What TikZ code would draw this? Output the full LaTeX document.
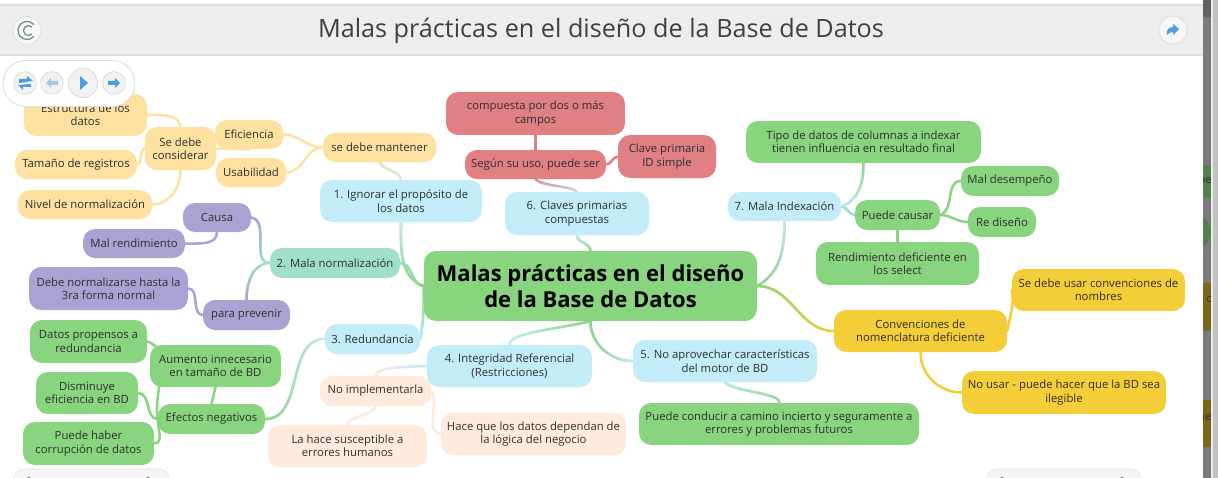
\documentclass[tikz,border=0pt]{standalone}
\usepackage{fontspec}
\setmainfont{Open Sans}
\usetikzlibrary{arrows.meta,fadings,backgrounds}
\definecolor{MapYel}{HTML}{FDE1A0}
\definecolor{MapPur}{HTML}{A9A2D2}
\definecolor{MapTeal}{HTML}{9FDFCB}
\definecolor{MapBlue}{HTML}{C2ECF7}
\definecolor{MapGreen}{HTML}{89D47E}
\definecolor{MapPeach}{HTML}{FFEADD}
\definecolor{MapRed}{HTML}{E08082}
\definecolor{MapGold}{HTML}{F4CE38}
\definecolor{MapText}{HTML}{303030}
\definecolor{BarGrey}{HTML}{EDEDED}
\definecolor{BarLine}{HTML}{DEDEDE}
\definecolor{BtnBlue}{HTML}{4A9FE0}
\tikzset{
  lnk/.style={draw=#1,line width=1.9pt,line cap=round},
  fadelnk/.style 2 args={line width=1.9pt,line cap=round,draw=#1,postaction={draw=#2,path fading=\fadedir}},
  btn/.style={draw=BarLine,fill=#1,circle,inner sep=0pt,line width=0.6pt},
}
\begin{document}
\begin{tikzpicture}[x=0.75pt,y=-0.75pt,every node/.style={draw=none,font=\fontsize{8.5}{10.1}\selectfont,text=MapText,align=center,inner sep=0pt,rounded corners=9pt}]
  \useasboundingbox (0,0) rectangle (1218,478);
  % boxes
  \foreach \nm/\xa/\ya/\xb/\yb/\col/\lab in {
    estr/24/94/147/136/MapYel/{Estructura de los\\datos},
    cons/145/127/216/170/MapYel/{Se debe\\considerar},
    efic/215/120/283/149/MapYel/Eficiencia,
    usab/216/158/286/187/MapYel/Usabilidad,
    mant/323/133/436/162/MapYel/se debe mantener,
    tama/15/150/137/179/MapYel/Tamaño de registros,
    nivel/18/190/152/219/MapYel/Nivel de normalización,
    ign/320/180/482/222/MapBlue/{1. Ignorar el propósito de\\los datos},
    caus/183/203/251/232/MapPur/Causa,
    mrend/83/229/185/258/MapPur/Mal rendimiento,
    norm/270/248/400/278/MapTeal/2. Mala normalización,
    debe/29/267/188/310/MapPur/{Debe normalizarse hasta la\\3ra forma normal},
    prev/203/300/290/330/MapPur/para prevenir,
    dat/30/320/147/363/MapGreen/{Datos propensos a\\redundancia},
    aume/150/345/281/387/MapGreen/{Aumento innecesario\\en tamaño de BD},
    dism/36/372/138/414/MapGreen/{Disminuye\\eficiencia en BD},
    efec/158/404/265/434/MapGreen/Efectos negativos,
    hab/23/422/154/465/MapGreen/{Puede haber\\corrupción de datos},
    redu/325/324/420/354/MapBlue/3. Redundancia,
    integ/427/345/592/387/MapBlue/{4. Integridad Referencial\\(Restricciones)},
    noim/320/376/431/406/MapPeach/No implementarla,
    lah/268/425/427/467/MapPeach/{La hace susceptible a\\errores humanos},
    hace/441/413/626/455/MapPeach/{Hace que los datos dependan de\\la lógica del negocio},
    apr/633/340/817/382/MapBlue/{5. No aprovechar características\\del motor de BD},
    cond/639/403/919/445/MapGreen/{Puede conducir a camino incierto y seguramente a\\errores y problemas futuros},
    clav/505/192/649/235/MapBlue/{6. Claves primarias\\compuestas},
    seg/465/150/606/179/MapRed/{Según su uso, puede ser},
    comp/446/92/625/135/MapRed/{compuesta por dos o más\\campos},
    cprim/618/135/716/178/MapRed/{Clave primaria\\ID simple},
    mind/728/192/841/221/MapBlue/7. Mala Indexación,
    tipo/746/121/981/163/MapGreen/{Tipo de datos de columnas a indexar\\tienen influencia en resultado final},
    pcau/855/200/940/230/MapGreen/Puede causar,
    mdes/961/166/1059/196/MapGreen/Mal desempeño,
    redi/968/207/1036/237/MapGreen/Re diseño,
    rend/816/242/979/285/MapGreen/{Rendimiento deficiente en\\los select},
    conv/834/310/1007/352/MapGold/{Convenciones de\\nomenclatura deficiente},
    sedeb/1012/269/1185/311/MapGold/{Se debe usar convenciones de\\nombres},
    nous/962/371/1166/414/MapGold/{No usar - puede hacer que la BD sea\\ilegible}}{
    \node[fill=\col,minimum width={(\xb-\xa)*0.75pt},minimum height={(\yb-\ya)*0.75pt}] (\nm) at ({(\xa+\xb)/2},{(\ya+\yb)/2}) {\lab};
  }
  \node[fill=MapGreen,minimum width=249.75pt,minimum height=52.5pt,font=\fontsize{16.5}{19.6}\selectfont\bfseries,text=black] (root) at (590.5,286) {Malas prácticas en el diseño\\de la Base de Datos};
  % links
  \begin{scope}[on background layer]
    \draw[lnk=MapYel] (mant.west) to[out=180,in=0] (efic.east);
    \draw[lnk=MapYel] (mant.west) to[out=180,in=0] (usab.east);
    \draw[lnk=MapYel] (cons.east) -- (efic.south);
    \draw[lnk=MapYel] (cons.north) to[out=100,in=0] (estr.east);
    \draw[lnk=MapYel] (cons.west) to[out=200,in=20] (tama.east);
    \draw[lnk=MapYel] (cons.south) to[out=-90,in=0] (nivel.east);
    \draw[lnk=MapPur] (caus.south) to[out=-90,in=0] (mrend.east);
    \draw[lnk=MapPur] (prev.west) to[out=180,in=0] (debe.east);
    \draw[lnk=MapGreen] (efec.north) -- (aume.south);
    \draw[lnk=MapGreen] (efec.west) to[out=100,in=-20] (dat.east);
    \draw[lnk=MapGreen] (efec.west) to[out=180,in=0] (dism.east);
    \draw[lnk=MapGreen] (efec.west) to[out=-90,in=0] (hab.east);
    \draw[lnk=MapPeach] (noim.east) to[out=-60,in=170] (hace.west);
    \draw[lnk=MapPeach] (noim.south) .. controls +(0,8) and +(0,-8) .. (lah.north);
    \draw[lnk=MapRed] (seg.north) -- (comp.south);
    \draw[lnk=MapRed] (seg.east) to[out=0,in=180] (cprim.west);
    \draw[lnk=MapGreen] (pcau.east) to[out=20,in=180] (mdes.west);
    \draw[lnk=MapGreen] (pcau.east) to[out=0,in=180] (redi.west);
    \draw[lnk=MapGreen] (pcau.south) -- (rend.north);
    \draw[lnk=MapGold] (conv.east) to[out=80,in=-80] (sedeb.west);
    \draw[lnk=MapGold] (conv.south) to[out=-90,in=180] (nous.west);
    \draw[lnk=MapTeal] (mind.east) to[out=0,in=180] (pcau.west);
    \foreach \fadedir/\parent/\child/\pth in {
      south/MapYel/MapBlue/{(mant.south) .. controls +(4,8) and +(0,-8) .. (ign.north)},
      south/MapBlue/MapGreen/{(ign.south) to[out=-90,in=160] (root.west)},
      east/MapTeal/MapGreen/{(norm.east) to[out=0,in=180] (root.west)},
      south/MapPur/MapTeal/{(caus.east) to[out=-10,in=180] (norm.west)},
      north/MapPur/MapTeal/{(prev.north) to[out=90,in=180] (norm.west)},
      north/MapBlue/MapGreen/{(redu.east) to[out=80,in=270] (root.west)},
      east/MapGreen/MapBlue/{(efec.east) to[out=0,in=180] (redu.west)},
      west/MapGreen/MapBlue/{(root.south) .. controls +(-40,9) and +(0,-12) .. (integ.north)},
      east/MapGreen/MapBlue/{(root.south) to[out=-90,in=180] (apr.west)},
      west/MapBlue/MapPeach/{(integ.west) .. controls +(-30,1) and +(2,-8) .. (noim.north)},
      south/MapBlue/MapGreen/{(apr.south) .. controls +(10,10) and +(2,-10) .. (cond.north)},
      south/MapBlue/MapGreen/{(clav.south) to[out=-90,in=90] (root.north)},
      south/MapRed/MapBlue/{(seg.south) .. controls +(6,7) and +(-7,-6) .. (clav.north)},
      south/MapBlue/MapGreen/{(mind.south) to[out=-90,in=30] (root.east)},
      east/MapGreen/MapGold/{(root.east) to[out=0,in=180] (conv.west)},
      north/MapBlue/MapGreen/{(mind.east) to[out=20,in=-90] (tipo.south)}}{
      \edef\dopath{\noexpand\draw[fadelnk={\child}{\parent}] \unexpanded\expandafter{\pth};}
      \dopath
    }
  \end{scope}
  % page frame
  \fill[white] (0,0) rectangle (1203,5);
  \fill[BarGrey] (0,5) rectangle (1203,55);
  \draw[BarLine,line width=0.9pt] (0,5) -- (1203,5) (0,55) -- (1203,55);
  \node[font=\fontsize{18.9}{23}\selectfont,text=black!75] (title) at (601,31) {Malas prácticas en el diseño de la Base de Datos};
  \node[btn=white!97!black,minimum size=21pt] (logo) at (27,30.5) {};
  \draw[teal!45!black!55,line width=1pt] (33.9,24.7) arc[start angle=-40,end angle=-320,radius=9] (32,27) arc[start angle=-45,end angle=-315,radius=5];
  \node[btn=white!97!black,minimum size=21pt] (share) at (1173,30) {};
  \fill[BtnBlue] (1179,29) -- (1173,24) -- (1173,27) .. controls (1168,27) and (1166,31) .. (1167,35) .. controls (1168,33) and (1170,32) .. (1173,32) -- (1173,35) -- cycle;
  % control pill
  \node[draw=BarLine,fill=white,line width=0.7pt,minimum width=99pt,minimum height=34.5pt,rounded corners=17pt] (pill) at (69,83.5) {};
  \node[btn=white!95!black,minimum size=17pt] (reload) at (25,83) {};
  \node[btn=white!95!black,minimum size=17pt] (prev btn) at (52,83) {};
  \node[btn=white!95!black,minimum size=22pt] (play) at (83,83) {};
  \node[btn=white!95!black,minimum size=17pt] (next btn) at (114,83) {};
  \fill[BtnBlue] (19,79) -- (27,79) -- (27,76) -- (33,81) -- (19,83) -- cycle (31,87) -- (23,87) -- (23,90) -- (18,85) -- (31,84) -- cycle;
  \fill[BtnBlue!55] (46,83) -- (51,78) -- (51,81) -- (58,81) -- (58,85) -- (51,85) -- (51,88) -- cycle;
  \fill[BtnBlue] (80,76) -- (88,83) -- (80,90) -- cycle;
  \fill[BtnBlue] (120,83) -- (115,78) -- (115,81) -- (108,81) -- (108,85) -- (115,85) -- (115,88) -- cycle;
  % bottom pills
  \begin{scope}
    \clip (0,0) rectangle (1218,478);
    \node[draw=BarLine,fill=white!96!black,minimum width=117.75pt,minimum height=24pt,rounded corners=9pt] (zoom bar) at (91.5,485) {};
    \node[draw=BarLine,fill=white!96!black,minimum width=117pt,minimum height=24pt,rounded corners=9pt] (view bar) at (1064,485) {};
    \foreach \xp in {29,148,1002,1122}{
      \fill[black!60] (\xp,479) circle[radius=2];
    }
  \end{scope}
  % window edge
  \fill[black!52] (1203,0) rectangle (1211,478);
  \fill[black!62] (1203,0) rectangle (1211,17);
  \fill[black!8] (1211,0) rectangle (1212.5,478);
  \fill[black!24] (1212.5,0) rectangle (1218,478);
  \begin{scope}
    \clip (1203,0) rectangle (1211,478);
    \fill[MapGreen!60!black] (1203,165) rectangle (1211,198);
    \fill[MapGreen!60!black] (1194,232) circle[radius=17];
    \fill[MapGold!50!black] (1203,283) rectangle (1211,331);
    \fill[MapGold!50!black] (1203,400) rectangle (1211,447);
    \node[anchor=east,text=black!80] (ghost a) at (1212,182) {pe};
    \node[anchor=east,text=black!80] (ghost b) at (1212,299) {e c};
    \node[anchor=east,text=black!80] (ghost c) at (1212,417) {ue};
  \end{scope}
\end{tikzpicture}
\end{document}
